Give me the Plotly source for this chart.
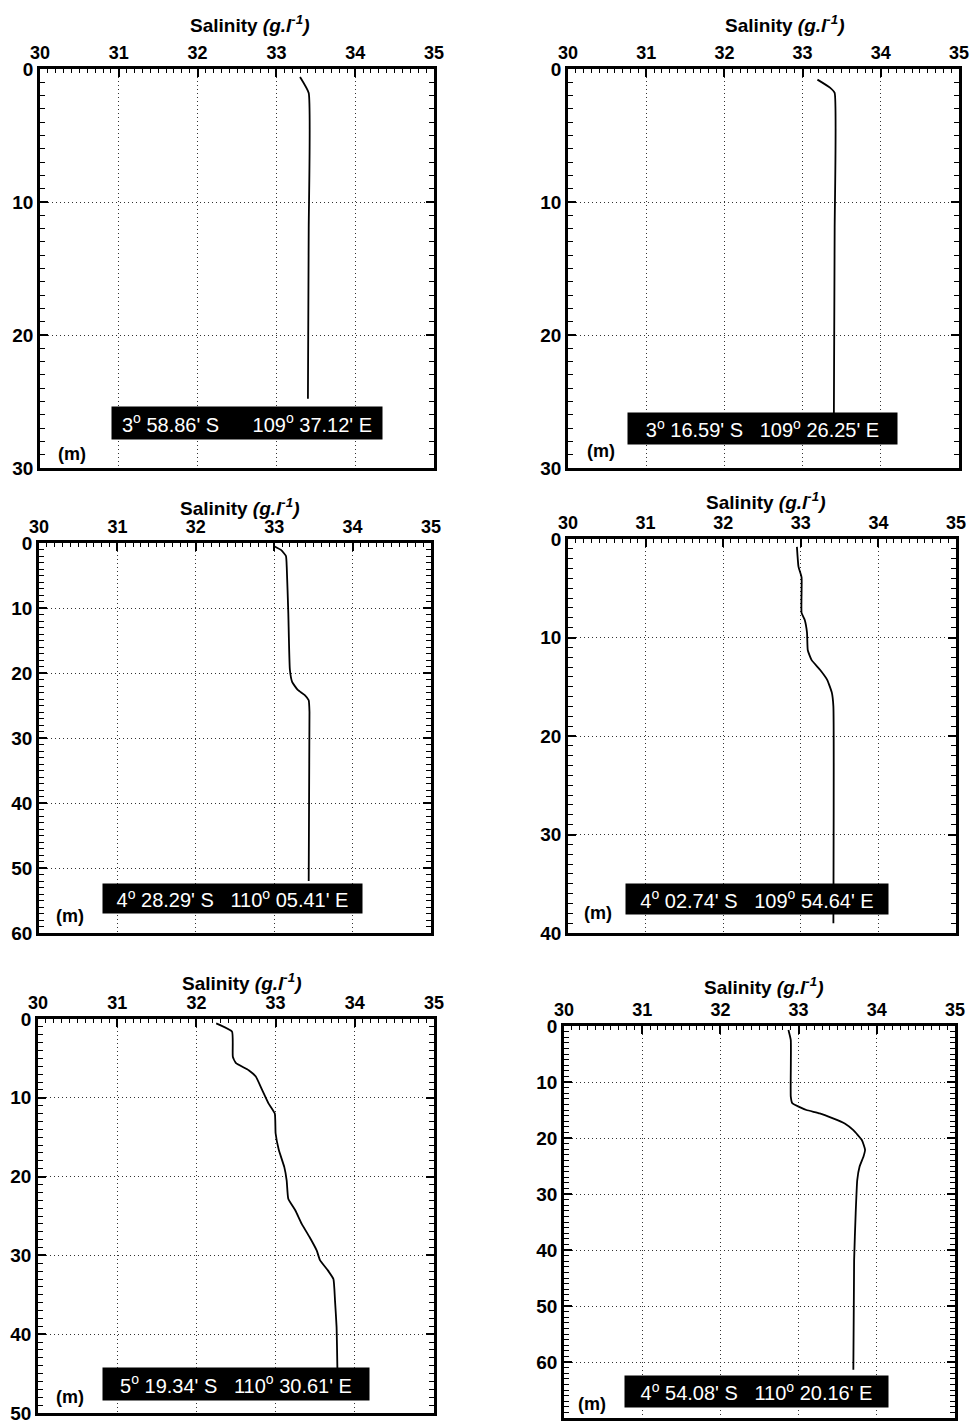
import plotly.graph_objects as go

# ---------------- data ----------------
p1_sal = [33.30, 33.41, 33.41, 33.40]
p1_dep = [0.6, 1.8, 12.0, 24.8]

p2_sal = [33.19, 33.35, 33.41, 33.41, 33.40]
p2_dep = [0.8, 1.4, 1.8, 12.0, 26.0]

p3_sal = [33.00, 33.09, 33.15, 33.16, 33.18, 33.20, 33.23, 33.30, 33.39, 33.44, 33.45, 33.44]
p3_dep = [0.5, 1.1, 2.0, 3.7, 10.8, 19.5, 21.4, 22.6, 23.4, 24.2, 26.0, 52.0]

p4_sal = [32.95, 32.97, 33.01, 33.01, 33.05, 33.08, 33.09, 33.14, 33.25, 33.34, 33.40, 33.42, 33.42]
p4_dep = [0.8, 2.8, 3.9, 7.5, 8.2, 9.5, 11.3, 12.3, 13.3, 14.3, 15.6, 17.0, 39.0]

p5_sal = [32.25, 32.45, 32.46, 32.50, 32.66, 32.75, 32.83, 32.91, 32.99, 33.00, 33.04, 33.11,
          33.14, 33.16, 33.25, 33.33, 33.43, 33.52, 33.56, 33.66, 33.73, 33.75, 33.77, 33.78]
p5_dep = [0.55, 1.6, 4.8, 5.6, 6.5, 7.3, 9.0, 10.7, 12.0, 14.5, 16.6, 18.8,
          20.5, 22.8, 24.3, 26.0, 27.7, 29.4, 30.6, 31.9, 33.0, 35.7, 39.1, 44.3]

p6_sal = [32.87, 32.90, 32.90, 32.92, 33.00, 33.10, 33.27, 33.44, 33.59, 33.70, 33.81, 33.85,
          33.83, 33.78, 33.75, 33.73, 33.71, 33.70]
p6_dep = [0.7, 2.5, 12.6, 13.8, 14.4, 15.0, 15.6, 16.5, 17.4, 18.6, 20.4, 22.1,
          23.3, 25.1, 27.5, 33.4, 41.8, 61.4]

max_depths = [30, 30, 60, 40, 50, 70]
x_ticks = [30, 31, 32, 33, 34, 35]
station_labels = [
    ("3", "58.86' S", "109", "37.12' E"),
    ("3", "16.59' S", "109", "26.25' E"),
    ("4", "28.29' S", "110", "05.41' E"),
    ("4", "02.74' S", "109", "54.64' E"),
    ("5", "19.34' S", "110", "30.61' E"),
    ("4", "54.08' S", "110", "20.16' E"),
]
title_text = "Salinity <i>(g.l<sup>-1</sup>)</i>"
unit_text = "(m)"

series = [(p1_sal, p1_dep), (p2_sal, p2_dep), (p3_sal, p3_dep),
          (p4_sal, p4_dep), (p5_sal, p5_dep), (p6_sal, p6_dep)]

# ---------------- layout (pixel geometry) ----------------
W, H = 970, 1424
# frame: left, right, top, bottom
frames = [
    (40, 434, 69, 468),
    (568, 959, 69, 468),
    (39, 431, 543, 933),
    (568, 956, 539, 933),
    (38, 434, 1019, 1413),
    (564, 955, 1026, 1418),
]
# title centre (x, y)
titles = [(250, 24), (785, 24), (240, 507), (766, 501), (242, 982), (764, 986)]
# label box: centre x, centre y, width, height, gap
boxes = [
    (247, 423, 270, 32, 6),
    (762, 428, 269, 31, 3),
    (232, 898, 259, 29, 3),
    (757, 899, 262, 30, 3),
    (236, 1384, 266, 32, 3),
    (756, 1391, 263, 31, 3),
]
units = [(72, 454), (601, 451), (70, 916), (598, 913), (70, 1397), (592, 1404)]

FONT = "Liberation Sans, Arial, sans-serif"

fig = go.Figure()
annotations = []


def px(x):
    return x / W


def py(y):
    return 1 - y / H


for i, ((sal, dep), (l, r, t, b)) in enumerate(zip(series, frames)):
    n = "" if i == 0 else str(i + 1)
    fig.add_trace(go.Scatter(
        x=sal, y=dep, mode="lines",
        line=dict(color="black", width=1.8, shape="spline", smoothing=0.4),
        xaxis="x" + n, yaxis="y" + n, showlegend=False, hoverinfo="skip"))

    axis_common = dict(
        showline=True, linecolor="black", linewidth=2.5, automargin=False,
        showgrid=True, gridcolor="#333333", griddash="1px,3px", gridwidth=1.2,
        zeroline=False, ticks="inside", tickcolor="black", tickwidth=1.5,
        ticklen=8,
    )
    xa = dict(axis_common)
    xa.update(domain=[px(l), px(r)], range=[30, 35], side="top",
              tickvals=x_ticks, ticktext=[str(v) for v in x_ticks],
              mirror=True, anchor="y" + n,
              minor=dict(dtick=0.1, ticks="inside", ticklen=4, tickcolor="black",
                         tickwidth=1, showgrid=False),
              tickfont=dict(family=FONT, size=18, color="black", weight="bold"))
    md = max_depths[i]
    ya = dict(axis_common)
    ya.update(domain=[py(b), py(t)], range=[md, 0],
              tickvals=list(range(0, md + 1, 10)),
              mirror="allticks", anchor="x" + n,
              minor=dict(dtick=1, ticks="inside", ticklen=5, tickcolor="black",
                         tickwidth=1, showgrid=False),
              tickfont=dict(family=FONT, size=19, color="black", weight="bold"))
    fig.layout["xaxis" + n] = xa
    fig.layout["yaxis" + n] = ya

    tx, ty = titles[i]
    annotations.append(dict(
        x=px(tx), y=py(ty), xref="paper", yref="paper", showarrow=False,
        text="<b>" + title_text + "</b>", xanchor="center", yanchor="middle",
        font=dict(family=FONT, size=19, color="black")))

    cx, cy, bw, bh, gap = boxes[i]
    d1, m1, d2, m2 = station_labels[i]
    sp = "\u00a0" * gap
    label = f"{d1}<sup>o</sup> {m1}{sp}{d2}<sup>o</sup> {m2}"
    annotations.append(dict(
        x=px(cx), y=py(cy), xref="paper", yref="paper", showarrow=False,
        text=label, xanchor="center", yanchor="middle",
        width=bw, height=bh, borderpad=0, bgcolor="black",
        font=dict(family=FONT, size=20, color="white")))

    ux, uy = units[i]
    annotations.append(dict(
        x=px(ux), y=py(uy), xref="paper", yref="paper", showarrow=False,
        text="<b>" + unit_text + "</b>", xanchor="center", yanchor="middle",
        font=dict(family=FONT, size=18, color="black")))

fig.update_layout(
    width=W, height=H, margin=dict(l=0, r=0, t=0, b=0, autoexpand=False),
    paper_bgcolor="white", plot_bgcolor="white",
    annotations=annotations, showlegend=False,
)

fig.write_html(
    "out.html",
    config={"displayModeBar": False},
    post_script="document.body.style.margin='0';document.body.style.overflow='hidden';",
)
